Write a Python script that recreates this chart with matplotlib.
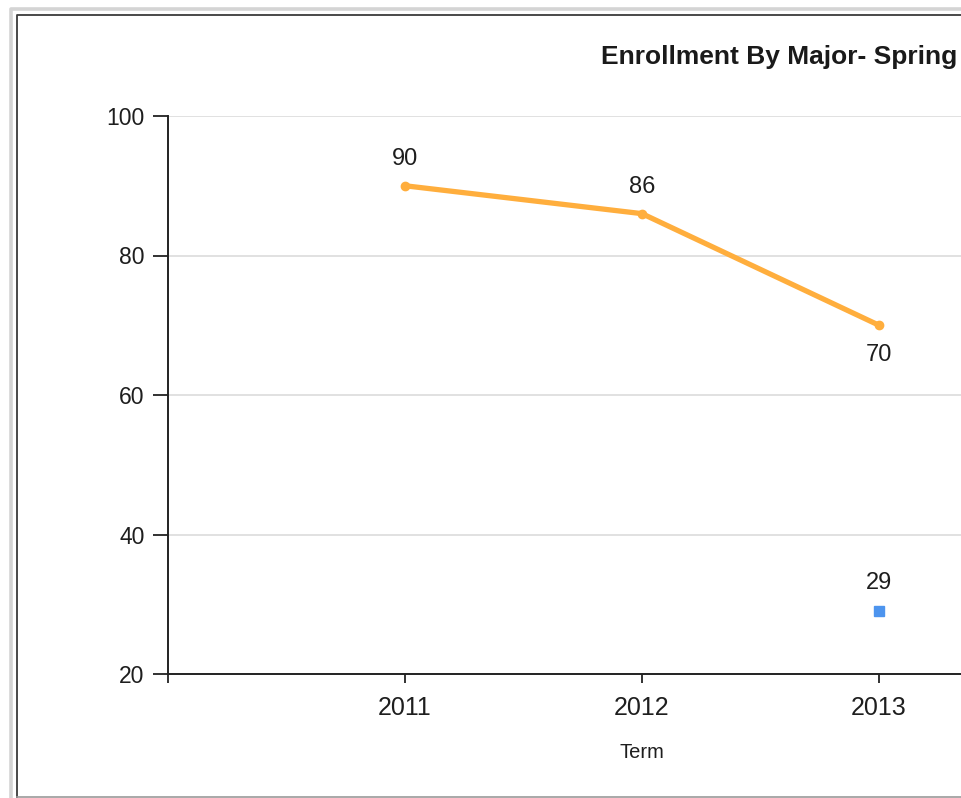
import matplotlib.pyplot as plt
from matplotlib.lines import Line2D

plt.rcParams['font.family'] = ['Liberation Sans', 'DejaVu Sans']

terms = ['2011', '2012', '2013']
major_a = [90, 86, 70]
major_b_terms = ['2013']
major_b = [29]

pos = {t: i + 1 for i, t in enumerate(terms)}

W, H = 961, 798
fig = plt.figure(figsize=(W / 100, H / 100), dpi=100)


def frame_line(xs, ys, color, lw):
    fig.add_artist(Line2D([x / W for x in xs], [1 - y / H for y in ys],
                          transform=fig.transFigure, color=color, linewidth=lw))


# page frame
frame_line([10.5, 10.5, W + 5], [H + 5, 8.5, 8.5], '#d4d4d4', 2.6)
frame_line([16.5, 16.5, W + 5], [H + 5, 14.5, 14.5], '#3a3a3a', 1.3)
frame_line([16.5, W + 5], [797, 797], '#9a9a9a', 1.2)

ax = fig.add_axes([168 / W, 124 / H, 793 / W, 558 / H])

xa = [pos[t] for t in terms]
ax.plot(xa, major_a, color='#FFAE3D', linewidth=3.8, marker='o', markersize=6,
        solid_capstyle='round', zorder=3, clip_on=False)
xb = [pos[t] for t in major_b_terms]
ax.plot(xb, major_b, linestyle='none', marker='s', markersize=6.5, color='#4D94EE', zorder=3)

lbl = dict(ha='center', va='center', fontsize=17, color='#1e1e1e')
for x, v in zip(xa, major_a):
    dy = -21.5 if v == min(major_a) else 19.5
    ax.annotate(str(v), (x, v), xytext=(0, dy), textcoords='offset points', **lbl)
for x, v in zip(xb, major_b):
    ax.annotate(str(v), (x, v), xytext=(0, 20.5), textcoords='offset points', **lbl)

xmax = 793 / 237
ax.set_xlim(0, xmax)
ax.set_ylim(20, 100)
ax.set_yticks([20, 40, 60, 80, 100])
ax.set_xticks([0] + xa)
ax.set_xticklabels([''] + terms)
ax.tick_params(labelcolor='#1e1e1e', width=1.3, color='#222222')
ax.tick_params(axis='y', labelsize=16.5, length=11, pad=6)
ax.tick_params(axis='x', labelsize=18, length=6.5, pad=9)
ax.grid(axis='y', color='#dcdcdc', linewidth=1.2)
ax.set_axisbelow(True)
for s in ['top', 'right']:
    ax.spines[s].set_visible(False)
for s in ['left', 'bottom']:
    ax.spines[s].set_linewidth(1.4)
    ax.spines[s].set_color('#222222')

ax.set_xlabel('Term', fontsize=14.5, color='#1e1e1e')
ax.xaxis.set_label_coords(2 / xmax, -(752 - 674) / 558, transform=ax.transAxes)
ax.xaxis.label.set_va('center')
fig.text(779 / W, 1 - 57 / H, 'Enrollment By Major- Spring', ha='center', va='center',
         fontsize=19, fontweight='bold', color='#1a1a1a')

fig.savefig('out.png', dpi=100)
